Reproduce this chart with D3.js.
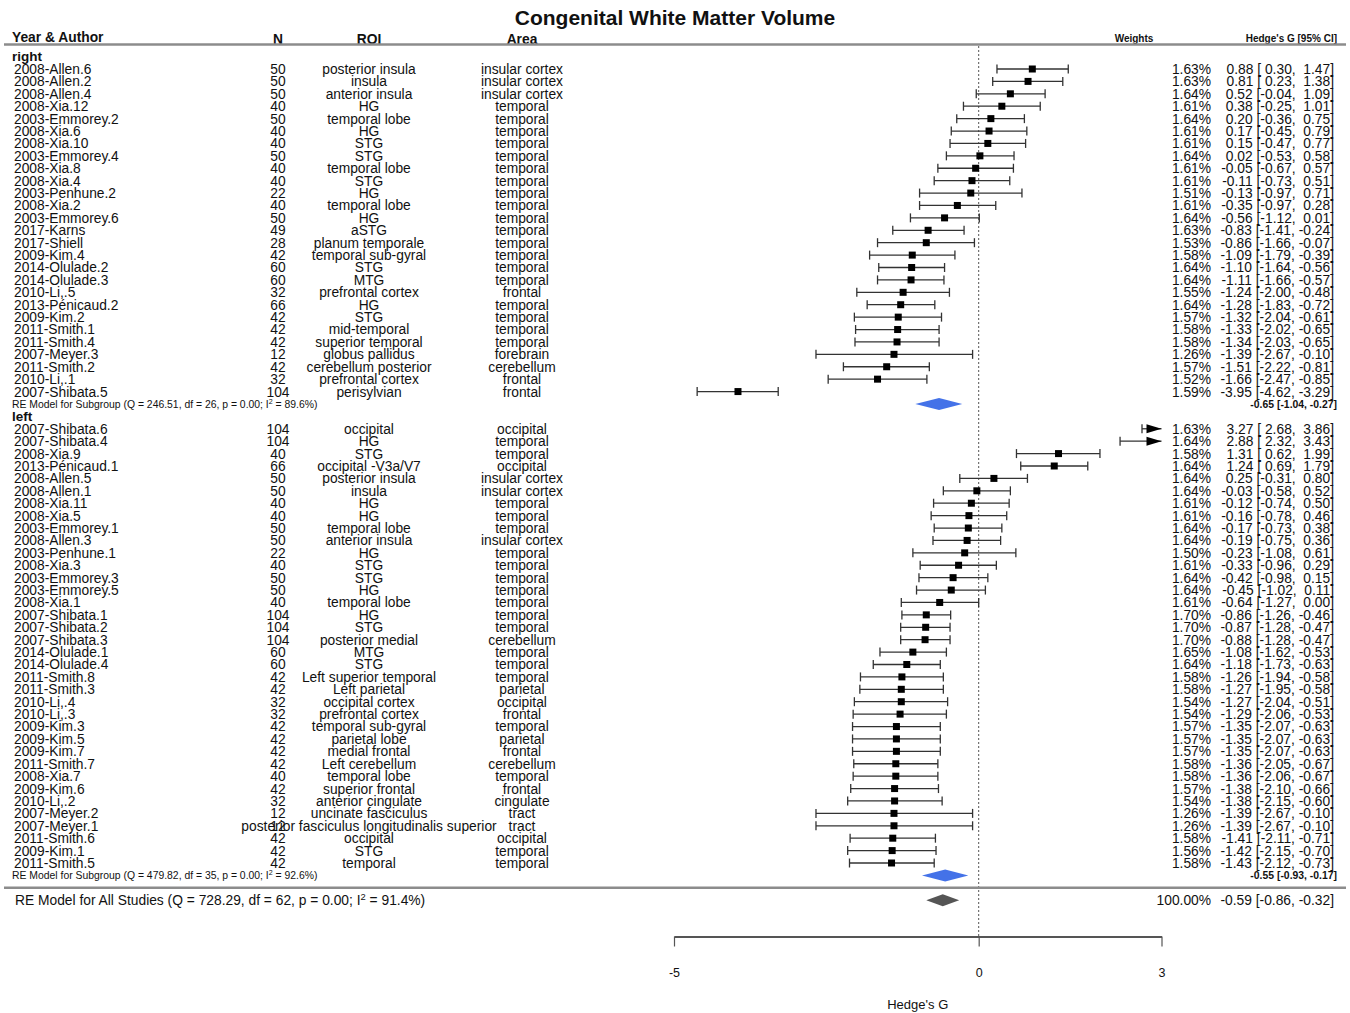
<!DOCTYPE html>
<html>
<head>
<meta charset="utf-8">
<script src="https://cdn.jsdelivr.net/npm/d3@7"></script>
<style>
  body { margin: 0; background: #fff; }
  text { font-family: "Liberation Sans", Arial, Helvetica, sans-serif; fill: #111; }
</style>
</head>
<body>
<svg id="chart" width="1350" height="1013"></svg>
<script>
// ---- Right hemisphere studies ----
const rightAuthors = ["2008-Allen.6","2008-Allen.2","2008-Allen.4","2008-Xia.12","2003-Emmorey.2","2008-Xia.6","2008-Xia.10","2003-Emmorey.4","2008-Xia.8","2008-Xia.4","2003-Penhune.2","2008-Xia.2","2003-Emmorey.6","2017-Karns","2017-Shiell","2009-Kim.4","2014-Olulade.2","2014-Olulade.3","2010-Li,.5","2013-Pénicaud.2","2009-Kim.2","2011-Smith.1","2011-Smith.4","2007-Meyer.3","2011-Smith.2","2010-Li,.1","2007-Shibata.5"];
const rightN = [50,50,50,40,50,40,40,50,40,40,22,40,50,49,28,42,60,60,32,66,42,42,42,12,42,32,104];
const rightROI = ["posterior insula","insula","anterior insula","HG","temporal lobe","HG","STG","STG","temporal lobe","STG","HG","temporal lobe","HG","aSTG","planum temporale","temporal sub-gyral","STG","MTG","prefrontal cortex","HG","STG","mid-temporal","superior temporal","globus pallidus","cerebellum posterior","prefrontal cortex","perisylvian"];
const rightArea = ["insular cortex","insular cortex","insular cortex","temporal","temporal","temporal","temporal","temporal","temporal","temporal","temporal","temporal","temporal","temporal","temporal","temporal","temporal","temporal","frontal","temporal","temporal","temporal","temporal","forebrain","cerebellum","frontal","frontal"];
const rightWeights = [1.63,1.63,1.64,1.61,1.64,1.61,1.61,1.64,1.61,1.61,1.51,1.61,1.64,1.63,1.53,1.58,1.64,1.64,1.55,1.64,1.57,1.58,1.58,1.26,1.57,1.52,1.59];
const rightG = [0.88,0.81,0.52,0.38,0.20,0.17,0.15,0.02,-0.05,-0.11,-0.13,-0.35,-0.56,-0.83,-0.86,-1.09,-1.10,-1.11,-1.24,-1.28,-1.32,-1.33,-1.34,-1.39,-1.51,-1.66,-3.95];
const rightLower = [0.30,0.23,-0.04,-0.25,-0.36,-0.45,-0.47,-0.53,-0.67,-0.73,-0.97,-0.97,-1.12,-1.41,-1.66,-1.79,-1.64,-1.66,-2.00,-1.83,-2.04,-2.02,-2.03,-2.67,-2.22,-2.47,-4.62];
const rightUpper = [1.47,1.38,1.09,1.01,0.75,0.79,0.77,0.58,0.57,0.51,0.71,0.28,0.01,-0.24,-0.07,-0.39,-0.56,-0.57,-0.48,-0.72,-0.61,-0.65,-0.65,-0.10,-0.81,-0.85,-3.29];

// ---- Left hemisphere studies ----
const leftAuthors = ["2007-Shibata.6","2007-Shibata.4","2008-Xia.9","2013-Pénicaud.1","2008-Allen.5","2008-Allen.1","2008-Xia.11","2008-Xia.5","2003-Emmorey.1","2008-Allen.3","2003-Penhune.1","2008-Xia.3","2003-Emmorey.3","2003-Emmorey.5","2008-Xia.1","2007-Shibata.1","2007-Shibata.2","2007-Shibata.3","2014-Olulade.1","2014-Olulade.4","2011-Smith.8","2011-Smith.3","2010-Li,.4","2010-Li,.3","2009-Kim.3","2009-Kim.5","2009-Kim.7","2011-Smith.7","2008-Xia.7","2009-Kim.6","2010-Li,.2","2007-Meyer.2","2007-Meyer.1","2011-Smith.6","2009-Kim.1","2011-Smith.5"];
const leftN = [104,104,40,66,50,50,40,40,50,50,22,40,50,50,40,104,104,104,60,60,42,42,32,32,42,42,42,42,40,42,32,12,12,42,42,42];
const leftROI = ["occipital","HG","STG","occipital -V3a/V7","posterior insula","insula","HG","HG","temporal lobe","anterior insula","HG","STG","STG","HG","temporal lobe","HG","STG","posterior medial","MTG","STG","Left superior temporal","Left parietal","occipital cortex","prefrontal cortex","temporal sub-gyral","parietal lobe","medial frontal","Left cerebellum","temporal lobe","superior frontal","anterior cingulate","uncinate fasciculus","posterior fasciculus longitudinalis superior","occipital","STG","temporal"];
const leftArea = ["occipital","temporal","temporal","occipital","insular cortex","insular cortex","temporal","temporal","temporal","insular cortex","temporal","temporal","temporal","temporal","temporal","temporal","temporal","cerebellum","temporal","temporal","temporal","parietal","occipital","frontal","temporal","parietal","frontal","cerebellum","temporal","frontal","cingulate","tract","tract","occipital","temporal","temporal"];
const leftWeights = [1.63,1.64,1.58,1.64,1.64,1.64,1.61,1.61,1.64,1.64,1.50,1.61,1.64,1.64,1.61,1.70,1.70,1.70,1.65,1.64,1.58,1.58,1.54,1.54,1.57,1.57,1.57,1.58,1.58,1.57,1.54,1.26,1.26,1.58,1.56,1.58];
const leftG = [3.27,2.88,1.31,1.24,0.25,-0.03,-0.12,-0.16,-0.17,-0.19,-0.23,-0.33,-0.42,-0.45,-0.64,-0.86,-0.87,-0.88,-1.08,-1.18,-1.26,-1.27,-1.27,-1.29,-1.35,-1.35,-1.35,-1.36,-1.36,-1.38,-1.38,-1.39,-1.39,-1.41,-1.42,-1.43];
const leftLower = [2.68,2.32,0.62,0.69,-0.31,-0.58,-0.74,-0.78,-0.73,-0.75,-1.08,-0.96,-0.98,-1.02,-1.27,-1.26,-1.28,-1.28,-1.62,-1.73,-1.94,-1.95,-2.04,-2.06,-2.07,-2.07,-2.07,-2.05,-2.06,-2.10,-2.15,-2.67,-2.67,-2.11,-2.15,-2.12];
const leftUpper = [3.86,3.43,1.99,1.79,0.80,0.52,0.50,0.46,0.38,0.36,0.61,0.29,0.15,0.11,0.00,-0.46,-0.47,-0.47,-0.53,-0.63,-0.58,-0.58,-0.51,-0.53,-0.63,-0.63,-0.63,-0.67,-0.67,-0.66,-0.60,-0.10,-0.10,-0.71,-0.70,-0.73];

// ---- Random-effects summaries ----
const subgroupNames = ["right", "left"];
const subgroupQ = [246.51, 479.82];
const subgroupDf = [26, 35];
const subgroupP = [0.00, 0.00];
const subgroupI2 = [89.6, 92.6];
const subgroupG = [-0.65, -0.55];
const subgroupLower = [-1.04, -0.93];
const subgroupUpper = [-0.27, -0.17];

const overallQ = 728.29, overallDf = 62, overallP = 0.00, overallI2 = 91.4;
const overallG = -0.59, overallLower = -0.86, overallUpper = -0.32, overallWeight = 100.00;

const axisTicks = [-5, 0, 3];

// ---- Layout ----
const svg = d3.select("#chart");
const xMin = -5, xMax = 3;
const x = d3.scaleLinear().domain([xMin, xMax]).range([674, 1161.5]);
// row index -> vertical position (rows are evenly spaced)
const y = d3.scaleLinear().domain([0, 64]).range([69, 863]);

const FONT = 13.8;
const colAuthor = 14, colN = 278, colROI = 369, colArea = 522, colWeight = 1211, colAnnot = 1334;

const fmt = v => v.toFixed(2);
const NB = "\u00A0";

function buildStudies(authors, n, roi, area, w, g, lo, hi, firstRow) {
  return authors.map((a, i) => ({
    author: a, n: n[i], roi: roi[i], area: area[i], weight: w[i],
    g: g[i], lo: lo[i], hi: hi[i], row: firstRow + i
  }));
}
const studies = [
  ...buildStudies(rightAuthors, rightN, rightROI, rightArea, rightWeights, rightG, rightLower, rightUpper, 0),
  ...buildStudies(leftAuthors, leftN, leftROI, leftArea, leftWeights, leftG, leftLower, leftUpper, 29)
];
const groupHeaderRows = [-1, 28];
const subgroupRows = [27, 65];
const separatorRow = 66;
const overallRow = 67;

const wEst = d3.max(studies, d => fmt(d.g).length);
const wLo = d3.max(studies, d => fmt(d.lo).length);
const wHi = d3.max(studies, d => fmt(d.hi).length);
const pad = (s, w) => NB.repeat(Math.max(0, w - s.length)) + s;

// ---- Title & header ----
svg.append("text").attr("x", 675).attr("y", 25).attr("text-anchor", "middle")
  .style("font-size", "21px").style("font-weight", "bold").text("Congenital White Matter Volume");

const header = svg.append("g").style("font-weight", "bold");
header.append("text").attr("x", 12).attr("y", 42).style("font-size", "13.8px").text("Year & Author");
header.append("text").attr("x", colN).attr("y", 44).attr("text-anchor", "middle").style("font-size", "13.8px").text("N");
header.append("text").attr("x", colROI).attr("y", 44).attr("text-anchor", "middle").style("font-size", "13.8px").text("ROI");
header.append("text").attr("x", colArea).attr("y", 44).attr("text-anchor", "middle").style("font-size", "13.8px").text("Area");
header.append("text").attr("x", 1134).attr("y", 41.5).attr("text-anchor", "middle").style("font-size", "10px").text("Weights");
header.append("text").attr("x", 1337).attr("y", 41.5).attr("text-anchor", "end").style("font-size", "10px").text("Hedge's G [95% CI]");

svg.append("line").attr("x1", 4).attr("x2", 1346).attr("y1", 44.5).attr("y2", 44.5)
  .attr("stroke", "#8c8c8c").attr("stroke-width", 2.5);

// reference line at zero
svg.append("line").attr("x1", x(0)).attr("x2", x(0)).attr("y1", 46).attr("y2", 936)
  .attr("stroke", "#555").attr("stroke-width", 1).attr("stroke-dasharray", "2,2");

// ---- Group labels ----
svg.selectAll("text.group").data(subgroupNames).join("text").attr("class", "group")
  .attr("x", 12).attr("y", (d, i) => y(groupHeaderRows[i])).attr("dy", "0.33em")
  .style("font-size", "13.5px").style("font-weight", "bold").text(d => d);

// ---- Study text columns ----
const rowsG = svg.append("g").style("font-size", FONT + "px");
const rowText = (cls, xPos, anchor, fn) =>
  rowsG.selectAll("text." + cls).data(studies).join("text").attr("class", cls)
    .attr("x", xPos).attr("y", d => y(d.row)).attr("dy", "0.36em")
    .attr("text-anchor", anchor).text(fn);
rowText("author", colAuthor, "start", d => d.author);
rowText("n", colN, "middle", d => d.n);
rowText("roi", colROI, "middle", d => d.roi);
rowText("area", colArea, "middle", d => d.area);
rowText("weight", colWeight, "end", d => fmt(d.weight) + "%");
rowText("annot", colAnnot, "end",
  d => `${pad(fmt(d.g), wEst)}${NB}[${pad(fmt(d.lo), wLo)},${NB}${pad(fmt(d.hi), wHi)}]`);

// ---- Confidence intervals ----
const ciG = svg.append("g").attr("stroke", "#333").attr("stroke-width", 1.3);
const capH = 4.5, arrowLen = 15, arrowHalf = 4.5;
studies.forEach(d => {
  const yc = y(d.row);
  const lo = Math.max(d.lo, xMin), hi = Math.min(d.hi, xMax);
  ciG.append("line").attr("x1", x(lo)).attr("x2", x(hi)).attr("y1", yc).attr("y2", yc);
  if (d.lo >= xMin) ciG.append("line").attr("x1", x(d.lo)).attr("x2", x(d.lo)).attr("y1", yc - capH).attr("y2", yc + capH);
  if (d.hi <= xMax) ciG.append("line").attr("x1", x(d.hi)).attr("x2", x(d.hi)).attr("y1", yc - capH).attr("y2", yc + capH);
});

// point estimates (hidden under the arrow when the interval runs off the axis)
svg.append("g").selectAll("rect").data(studies.filter(d => d.hi <= xMax)).join("rect")
  .attr("x", d => x(d.g) - 3.5).attr("y", d => y(d.row) - 3.5)
  .attr("width", 7).attr("height", 7).attr("fill", "#000");

// arrows for intervals truncated at the right axis limit
svg.append("g").selectAll("path").data(studies.filter(d => d.hi > xMax)).join("path")
  .attr("d", d => {
    const yc = y(d.row), xe = x(xMax);
    return `M${xe},${yc} L${xe - arrowLen},${yc - arrowHalf} L${xe - arrowLen},${yc + arrowHalf} Z`;
  })
  .attr("fill", "#000");

// ---- Diamonds ----
const diamond = (est, lo, hi, yc, h) =>
  `M${x(lo)},${yc} L${x(est)},${yc - h} L${x(hi)},${yc} L${x(est)},${yc + h} Z`;

// label with a superscript 2 on I, baseline restored in pixels
function heteroLabel(sel, prefix, i2, size) {
  const up = size * 0.4;
  sel.append("tspan").text(`${prefix}; I`);
  sel.append("tspan").attr("dy", -up).style("font-size", (size * 0.68) + "px").text("2");
  sel.append("tspan").attr("dy", up).text(` = ${i2.toFixed(1)}%)`);
}

subgroupNames.forEach((name, i) => {
  const yc = y(subgroupRows[i]);
  svg.append("path").attr("d", diamond(subgroupG[i], subgroupLower[i], subgroupUpper[i], yc, 6))
    .attr("fill", "#4472e8");
  const lbl = svg.append("text").attr("x", 12).attr("y", yc).attr("dy", "0.36em").style("font-size", "10.4px");
  heteroLabel(lbl, `RE Model for Subgroup (Q = ${fmt(subgroupQ[i])}, df = ${subgroupDf[i]}, p = ${fmt(subgroupP[i])}`, subgroupI2[i], 10.4);
  svg.append("text").attr("x", 1337).attr("y", yc).attr("dy", "0.36em").attr("text-anchor", "end")
    .style("font-size", "10.4px").style("font-weight", "bold")
    .text(`${fmt(subgroupG[i])} [${fmt(subgroupLower[i])}, ${fmt(subgroupUpper[i])}]`);
});

svg.append("line").attr("x1", 4).attr("x2", 1346).attr("y1", y(separatorRow)).attr("y2", y(separatorRow))
  .attr("stroke", "#8c8c8c").attr("stroke-width", 2.5);

{
  const yc = y(overallRow);
  svg.append("path").attr("d", diamond(overallG, overallLower, overallUpper, yc, 6)).attr("fill", "#555");
  const lbl = svg.append("text").attr("x", 15).attr("y", yc).attr("dy", "0.36em").style("font-size", FONT + "px");
  heteroLabel(lbl, `RE Model for All Studies (Q = ${fmt(overallQ)}, df = ${overallDf}, p = ${fmt(overallP)}`, overallI2, FONT);
  svg.append("text").attr("x", colWeight).attr("y", yc).attr("dy", "0.36em").attr("text-anchor", "end")
    .style("font-size", FONT + "px").text(fmt(overallWeight) + "%");
  svg.append("text").attr("x", colAnnot).attr("y", yc).attr("dy", "0.36em").attr("text-anchor", "end")
    .style("font-size", FONT + "px")
    .text(`${fmt(overallG)}${NB}[${fmt(overallLower)},${NB}${fmt(overallUpper)}]`);
}

// ---- Axis ----
const axisY = 936.5;
const axisG = svg.append("g").attr("transform", `translate(0,${axisY})`)
  .call(d3.axisBottom(x).tickValues(axisTicks).tickFormat(d => String(d)).tickSize(10).tickSizeOuter(0).tickPadding(22));
axisG.select(".domain").attr("stroke", "#555").attr("stroke-width", 2);
axisG.selectAll(".tick line").attr("stroke", "#555").attr("stroke-width", 1.2);
axisG.selectAll(".tick text").style("font-size", "12.5px").attr("fill", "#111")
  .style("font-family", '"Liberation Sans", Arial, Helvetica, sans-serif');

svg.append("text").attr("x", (x(xMin) + x(xMax)) / 2).attr("y", 1009).attr("text-anchor", "middle")
  .style("font-size", "13px").text("Hedge's G");
</script>
</body>
</html>
